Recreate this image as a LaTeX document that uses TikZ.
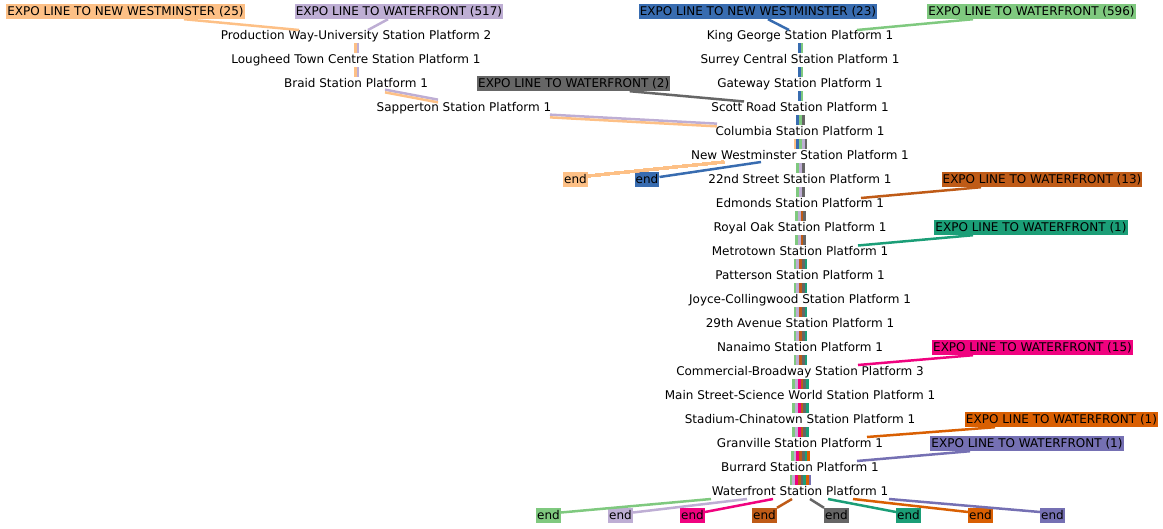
\documentclass[tikz,border=0pt]{standalone}
\usepackage{fontspec}
\setmainfont{DejaVu Sans}
\usetikzlibrary{calc}
\definecolor{lnorange}{HTML}{FDC086}
\definecolor{lnlav}{HTML}{BEAED4}
\definecolor{lnblue}{HTML}{386CB0}
\definecolor{lngreen}{HTML}{7FC97F}
\definecolor{lngrey}{HTML}{666666}
\definecolor{lnbrown}{HTML}{BF5B17}
\definecolor{lnteal}{HTML}{1B9E77}
\definecolor{lnpink}{HTML}{F0027F}
\definecolor{lnrust}{HTML}{D95F02}
\definecolor{lnpurple}{HTML}{7570B3}
\tikzset{
station/.style={inner sep=0pt, minimum height=16pt, text height=8.75pt, text depth=0pt},
trip/.style={fill=#1, inner xsep=1pt, inner ysep=0pt, minimum height=15pt, text height=8.75pt, text depth=1.3pt},
track/.style={line width=2.5pt},
strip/.style={line width=2.7pt, draw=#1}
}
% from, to, number of lines, colours
\newcommand\railstrips[4]{%
  \foreach \col [count=\k] in {#4}
    \draw[strip=\col] ($(#1)+({0.5+(\k-(#3+1)/2)*2.7},8)$) -- ($(#2)+({0.5+(\k-(#3+1)/2)*2.7},-6)$);
}

\begin{document}
\begin{tikzpicture}[x=1pt, y=-1pt, font=\fontsize{12}{14}\selectfont]
\useasboundingbox (0,0) rectangle (1163,528);
% stations
\node[station] (pw) at (356,35) {Production Way-University Station Platform 2};
\node[station] (lh) at (356,59) {Lougheed Town Centre Station Platform 1};
\node[station] (br) at (356,83) {Braid Station Platform 1};
\node[station] (sa) at (464,107) {Sapperton Station Platform 1};
\foreach \name/\txt [count=\i] in {kg/King George Station Platform 1,
  sc/Surrey Central Station Platform 1, gw/Gateway Station Platform 1,
  sr/Scott Road Station Platform 1, co/Columbia Station Platform 1,
  nw/New Westminster Station Platform 1, s22/22nd Street Station Platform 1,
  ed/Edmonds Station Platform 1, ro/Royal Oak Station Platform 1,
  mt/Metrotown Station Platform 1, pa/Patterson Station Platform 1,
  jc/Joyce-Collingwood Station Platform 1, a29/29th Avenue Station Platform 1,
  na/Nanaimo Station Platform 1, cb/Commercial-Broadway Station Platform 3,
  ms/Main Street-Science World Station Platform 1, sx/Stadium-Chinatown Station Platform 1,
  gv/Granville Station Platform 1, bu/Burrard Station Platform 1,
  wf/Waterfront Station Platform 1}
  \node[station] (\name) at (800,{11+24*\i}) {\txt};
% trips
\node[trip=lnorange] (nw25) at (125.5,11.5) {EXPO LINE TO NEW WESTMINSTER (25)};
\node[trip=lnlav] (wf517) at (399,11.5) {EXPO LINE TO WATERFRONT (517)};
\node[trip=lnblue] (nw23) at (758,11.5) {EXPO LINE TO NEW WESTMINSTER (23)};
\node[trip=lngreen] (wf596) at (1031.5,11.5) {EXPO LINE TO WATERFRONT (596)};
\node[trip=lngrey] (wf2) at (573.7,83.5) {EXPO LINE TO WATERFRONT (2)};
\node[trip=lnbrown] (wf13) at (1042,179.5) {EXPO LINE TO WATERFRONT (13)};
\node[trip=lnteal] (wf1a) at (1031,227.5) {EXPO LINE TO WATERFRONT (1)};
\node[trip=lnpink] (wf15) at (1032.5,347.5) {EXPO LINE TO WATERFRONT (15)};
\node[trip=lnrust] (wf1b) at (1061.5,419.5) {EXPO LINE TO WATERFRONT (1)};
\node[trip=lnpurple] (wf1c) at (1027,443.5) {EXPO LINE TO WATERFRONT (1)};
% ends
\node[trip=lnorange] (enda) at (575.5,179.5) {end};
\node[trip=lnblue] (endb) at (647,179.5) {end};
\foreach \col [count=\i] in {lngreen,lnlav,lnpink,lnbrown,lngrey,lnteal,lnrust,lnpurple}
  \node[trip=\col] (end\i) at ({476.5+72*\i},515.5) {end};
% first stops
\draw[track, lnorange] ($(nw25.south)+(58.5,0)$) -- ($(pw)+(-57,-5)$);
\draw[track, lnlav] ($(wf517.south)+(-11,0)$) -- ($(pw)+(12,-5)$);
\draw[track, lnblue] ($(nw23.south)+(10,0)$) -- ($(kg)+(-11,-5)$);
\draw[track, lngreen] ($(wf596.south)+(-58.5,0)$) -- ($(kg)+(57,-5)$);
\draw[track, lngrey] ($(wf2.south)+(56,0)$) -- ($(sr)+(-56,-5.5)$);
\draw[track, lnbrown] ($(wf13.south)+(-61,0)$) -- ($(ed)+(61,-5)$);
\draw[track, lnteal] ($(wf1a.south)+(-58,0)$) -- ($(mt)+(58,-5.5)$);
\draw[track, lnpink] ($(wf15.south)+(-59.5,0)$) -- ($(cb)+(58,-6)$);
\draw[track, lnrust] ($(wf1b.south)+(-66.5,0)$) -- ($(gv)+(67,-6)$);
\draw[track, lnpurple] ($(wf1c.south)+(-57,0)$) -- ($(bu)+(57,-6)$);
% between stations
\railstrips{pw}{lh}{2}{lnorange,lnlav}
\railstrips{lh}{br}{2}{lnorange,lnlav}
\foreach \col/\dy in {lnlav/-1.35, lnorange/1.35} {
  \draw[track, \col] ($(br)+(29,8+\dy)$) -- ($(sa)+(-26,-6+\dy)$);
  \draw[track, \col] ($(sa)+(86,9+\dy)$) -- ($(co)+(-83,-6+\dy)$);
}
\foreach \a/\b in {kg/sc,sc/gw,gw/sr}
  \railstrips{\a}{\b}{2}{lnblue,lngreen}
\railstrips{sr}{co}{3}{lnblue,lngreen,lngrey}
\railstrips{co}{nw}{5}{lnorange,lnblue,lngreen,lnlav,lngrey}
\foreach \a/\b in {nw/s22,s22/ed}
  \railstrips{\a}{\b}{3}{lngreen,lnlav,lngrey}
\foreach \a/\b in {ed/ro,ro/mt}
  \railstrips{\a}{\b}{4}{lngreen,lnlav,lnbrown,lngrey}
\foreach \a/\b in {mt/pa,pa/jc,jc/a29,a29/na,na/cb}
  \railstrips{\a}{\b}{5}{lngreen,lnlav,lnbrown,lngrey,lnteal}
\foreach \a/\b in {cb/ms,ms/sx,sx/gv}
  \railstrips{\a}{\b}{6}{lngreen,lnlav,lnpink,lnbrown,lngrey,lnteal}
\railstrips{gv}{bu}{7}{lngreen,lnlav,lnpink,lnbrown,lngrey,lnteal,lnrust}
\railstrips{bu}{wf}{8}{lngreen,lnlav,lnpink,lnbrown,lngrey,lnteal,lnrust,lnpurple}
% last stops
\draw[track, lnorange] ($(enda.east)+(0,-3.5)$) -- ($(nw)+(-76,7)$);
\draw[track, lnblue] ($(endb.east)+(0,-2.5)$) -- ($(nw)+(-39,7)$);
\draw[track, lngreen] ($(wf)+(-89,8)$) -- ($(end1.east)+(0,-3)$);
\draw[track, lnlav] ($(wf)+(-53,8)$) -- ($(end2.east)+(0,-3)$);
\draw[track, lnpink] ($(wf)+(-27,8)$) -- ($(end3.east)+(0,-3.5)$);
\draw[track, lnbrown] ($(wf)+(-8,8)$) -- (end4.north east);
\draw[track, lngrey] ($(wf)+(10,8)$) -- (end5.north west);
\draw[track, lnteal] ($(wf)+(28,8)$) -- ($(end6.west)+(0,-3.5)$);
\draw[track, lnrust] ($(wf)+(53,8)$) -- ($(end7.west)+(0,-3.5)$);
\draw[track, lnpurple] ($(wf)+(89,8)$) -- ($(end8.west)+(0,-3.5)$);
\end{tikzpicture}
\end{document}
